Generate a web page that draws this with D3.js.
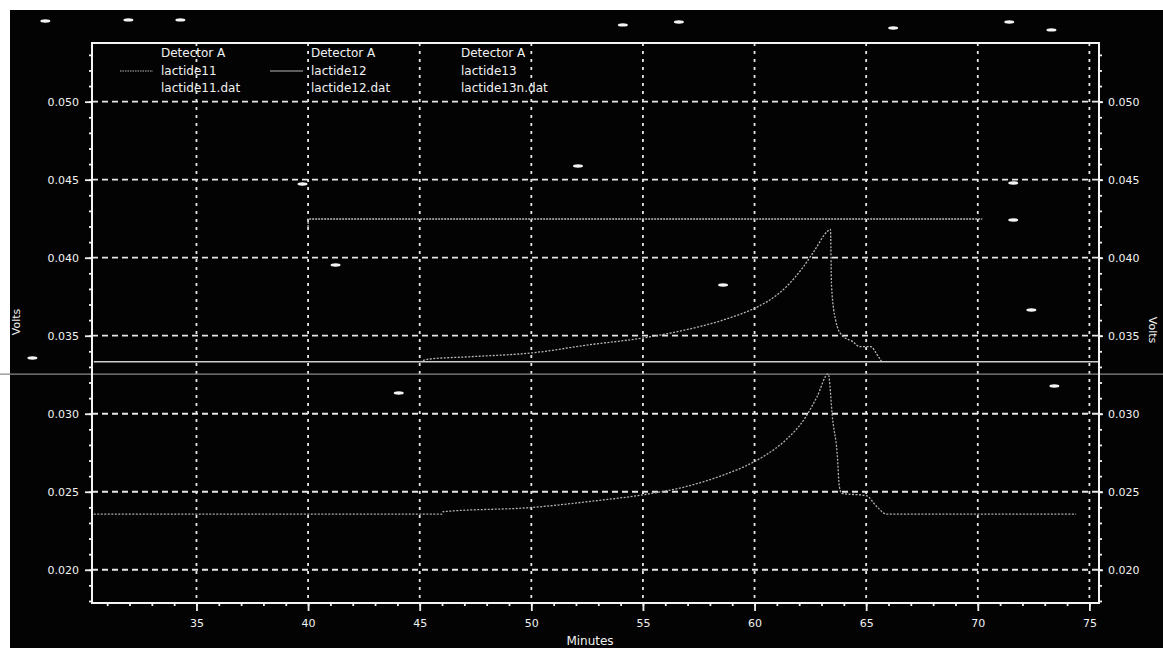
<!DOCTYPE html>
<html>
<head>
<meta charset="utf-8">
<script src="https://cdn.jsdelivr.net/npm/d3@7"></script>
<style>
  html, body { margin: 0; padding: 0; background: #fff; }
  text { font-family: "DejaVu Sans", sans-serif; fill: #f2f2f2; }
</style>
</head>
<body>
<script>
// ---- data ----
var xTicks = [35, 40, 45, 50, 55, 60, 65, 70, 75];
var yTicks = [0.020, 0.025, 0.030, 0.035, 0.040, 0.045, 0.050];

var legendDetector = ["Detector A", "Detector A", "Detector A"];
var legendSample = ["lactide11", "lactide12", "lactide13"];
var legendFile = ["lactide11.dat", "lactide12.dat", "lactide13n.dat"];

// lactide11 - flat trace across the whole run
var flatMin = [30.4, 75.4];
var flatVolts = [0.03333, 0.03333];

// lactide12 - upper peak
var upperMin = [45.0, 45.4, 47.2, 50.1, 52.5, 55.2, 56.9, 58.6, 60.2, 60.9, 61.5, 62.1, 62.7, 63.25, 63.4, 63.45, 63.63, 63.9, 64.4, 64.7, 65.2, 65.5, 65.7];
var upperVolts = [0.03333, 0.03350, 0.03365, 0.03391, 0.03440, 0.03490, 0.03537, 0.03601, 0.03690, 0.03750, 0.03825, 0.03925, 0.04049, 0.04167, 0.04182, 0.03814, 0.03601, 0.03505, 0.03462, 0.03430, 0.03430, 0.03376, 0.03333];

// lactide13 - lower peak
var lowerMin = [30.4, 46.0, 46.05, 50.1, 52.5, 55.2, 56.9, 58.6, 59.6, 60.5, 61.4, 62.3, 62.8, 63.3, 63.5, 63.7, 63.8, 63.9, 65.0, 65.5, 65.9, 74.4];
var lowerVolts = [0.02357, 0.02357, 0.02372, 0.02400, 0.02436, 0.02485, 0.02532, 0.02607, 0.02665, 0.02735, 0.02832, 0.02981, 0.03109, 0.03255, 0.02960, 0.02746, 0.02532, 0.02490, 0.02475, 0.02401, 0.02357, 0.02357];

// flat offset trace at top
var topMin = [40.0, 40.0, 70.2];
var topVolts = [0.04178, 0.04248, 0.04248];

// scanner streak running across the page
var streakVolts = 0.03254;

// white specks on the scan
var speckMin = [28.23, 31.95, 34.28, 54.10, 56.61, 66.21, 71.41, 73.30, 39.75, 41.23, 52.09, 58.59, 71.59, 71.59, 72.40, 73.43, 44.06, 27.65];
var speckVolts = [0.05517, 0.05524, 0.05524, 0.05492, 0.05511, 0.05472, 0.05511, 0.05460, 0.04472, 0.03953, 0.04588, 0.03825, 0.04479, 0.04242, 0.03665, 0.03178, 0.03133, 0.03357];

// ---- layout ----
var W = 1163, H = 651;
var L = 92, R = 1099, T = 43, B = 603;

var svg = d3.select("body").append("svg")
    .attr("width", W).attr("height", H);

svg.append("rect").attr("width", W).attr("height", H).attr("fill", "#fff");
svg.append("rect")
    .attr("x", 10).attr("y", 10)
    .attr("width", W - 10).attr("height", 638)
    .attr("fill", "#030303");

var x = d3.scaleLinear().domain([30.32, 75.43]).range([L, R]);
var y = d3.scaleLinear().domain([0.01787, 0.05376]).range([B, T]);

// grid
svg.append("g").selectAll("line").data(yTicks).enter().append("line")
    .attr("x1", L).attr("x2", R)
    .attr("y1", function(d){ return y(d); })
    .attr("y2", function(d){ return y(d); })
    .attr("stroke", "#e6e6e6").attr("stroke-width", 1.8)
    .attr("stroke-dasharray", "6,4");

svg.append("g").selectAll("line").data(xTicks).enter().append("line")
    .attr("y1", T).attr("y2", B)
    .attr("x1", function(d){ return x(d); })
    .attr("x2", function(d){ return x(d); })
    .attr("stroke", "#e6e6e6").attr("stroke-width", 1.8)
    .attr("stroke-dasharray", "3,5");

// streak
svg.append("line")
    .attr("x1", 0).attr("x2", W)
    .attr("y1", y(streakVolts)).attr("y2", y(streakVolts))
    .attr("stroke", "#8a8a8a").attr("stroke-width", 1.3);

// traces
function pts(a, b){ return a.map(function(m, i){ return [m, b[i]]; }); }
var lineSmooth = d3.line()
    .x(function(d){ return x(d[0]); })
    .y(function(d){ return y(d[1]); })
    .curve(d3.curveMonotoneX);
var lineStraight = d3.line()
    .x(function(d){ return x(d[0]); })
    .y(function(d){ return y(d[1]); });

svg.append("path").attr("d", lineStraight(pts(flatMin, flatVolts)))
    .attr("fill", "none").attr("stroke", "#cfcfcf").attr("stroke-width", 1.4);
svg.append("path").attr("d", lineStraight(pts(topMin, topVolts)))
    .attr("fill", "none").attr("stroke", "#bdbdbd").attr("stroke-width", 1.3)
    .attr("stroke-dasharray", "2,1");
svg.append("path").attr("d", lineSmooth(pts(upperMin, upperVolts)))
    .attr("fill", "none").attr("stroke", "#b5b5b5").attr("stroke-width", 1.3)
    .attr("stroke-dasharray", "2,1.5");
svg.append("path").attr("d", lineSmooth(pts(lowerMin, lowerVolts)))
    .attr("fill", "none").attr("stroke", "#b0b0b0").attr("stroke-width", 1.3)
    .attr("stroke-dasharray", "2,1.5");

// specks
svg.append("g").selectAll("ellipse").data(pts(speckMin, speckVolts)).enter().append("ellipse")
    .attr("cx", function(d){ return x(d[0]); })
    .attr("cy", function(d){ return y(d[1]); })
    .attr("rx", 5).attr("ry", 1.7)
    .attr("fill", "#f4f4f4");

// axes
var minorX = d3.range(31, 76);
var minorY = d3.range(18, 54).map(function(d){ return d / 1000; });

function styleAxis(g){
  g.select(".domain").remove();
  g.selectAll("line").attr("stroke", "#f0f0f0").attr("stroke-width", 1.8);
  g.selectAll("text").attr("fill", "#f2f2f2")
    .style("font-family", "DejaVu Sans").style("font-size", "11px");
}

svg.append("g").attr("transform", "translate(" + L + ",0)")
    .call(d3.axisLeft(y).tickValues(minorY).tickSize(3).tickFormat("")).call(styleAxis);
svg.append("g").attr("transform", "translate(" + L + ",0)")
    .call(d3.axisLeft(y).tickValues(yTicks).tickSize(7).tickPadding(6).tickFormat(d3.format(".3f"))).call(styleAxis);

svg.append("g").attr("transform", "translate(" + R + ",0)")
    .call(d3.axisRight(y).tickValues(minorY).tickSize(3).tickFormat("")).call(styleAxis);
svg.append("g").attr("transform", "translate(" + R + ",0)")
    .call(d3.axisRight(y).tickValues(yTicks).tickSize(4).tickPadding(5).tickFormat(d3.format(".3f"))).call(styleAxis);

svg.append("g").attr("transform", "translate(0," + B + ")")
    .call(d3.axisBottom(x).tickValues(minorX).tickSize(3).tickFormat("")).call(styleAxis);
svg.append("g").attr("transform", "translate(0," + B + ")")
    .call(d3.axisBottom(x).tickValues(xTicks).tickSize(8).tickPadding(8).tickFormat(d3.format("d"))).call(styleAxis);

// frame
svg.append("rect")
    .attr("x", L).attr("y", T)
    .attr("width", R - L).attr("height", B - T)
    .attr("fill", "none").attr("stroke", "#f4f4f4").attr("stroke-width", 2);

// axis titles
svg.append("text").attr("x", 590).attr("y", 645)
    .attr("text-anchor", "middle").style("font-size", "12px").text("Minutes");
svg.append("text").attr("transform", "translate(20,322) rotate(-90)")
    .attr("text-anchor", "middle").style("font-size", "11px").text("Volts");
svg.append("text").attr("transform", "translate(1149,330) rotate(90)")
    .attr("text-anchor", "middle").style("font-size", "11px").text("Volts");

// legend
var leg = svg.append("g");
legendSample.forEach(function(s, i){
  var gx = 161 + i * 150;
  [legendDetector[i], s, legendFile[i]].forEach(function(t, r){
    leg.append("text").attr("x", gx).attr("y", 57 + r * 17.5)
        .style("font-size", "12px").text(t);
  });
  if (i < 2) {
    leg.append("line")
        .attr("x1", gx - 41).attr("x2", gx - 8)
        .attr("y1", 71).attr("y2", 71)
        .attr("stroke", "#b8b8b8").attr("stroke-width", 1.2)
        .attr("stroke-dasharray", i === 0 ? "1.5,1" : null);
  }
});
</script>
</body>
</html>
